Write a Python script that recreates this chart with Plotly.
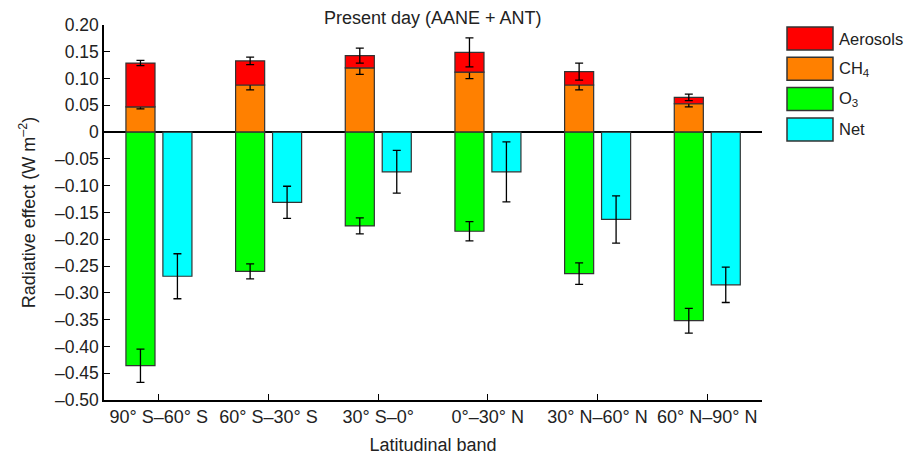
import plotly.graph_objects as go

# Latitudinal bands and radiative effects (W m-2)
bands = ["90° S–60° S", "60° S–30° S", "30° S–0°", "0°–30° N", "30° N–60° N", "60° N–90° N"]
ch4 = [0.047, 0.088, 0.120, 0.112, 0.088, 0.053]
ch4_err = [0.0035, 0.009, 0.012, 0.012, 0.009, 0.006]
aerosols = [0.082, 0.045, 0.023, 0.037, 0.025, 0.012]   # stacked on top of CH4
aerosols_err = [0.005, 0.007, 0.014, 0.027, 0.016, 0.006]
o3 = [-0.436, -0.260, -0.175, -0.185, -0.264, -0.352]
o3_err = [0.031, 0.014, 0.015, 0.018, 0.020, 0.023]
net = [-0.269, -0.131, -0.074, -0.074, -0.163, -0.285]
net_err = [0.042, 0.030, 0.040, 0.056, 0.044, 0.033]

y_ticks = [0.20, 0.15, 0.10, 0.05, 0, -0.05, -0.10, -0.15, -0.20, -0.25,
           -0.30, -0.35, -0.40, -0.45, -0.50]

legend_items = [("Aerosols", "#ff0000"), ("CH<sub>4</sub>", "#ff8000"),
                ("O<sub>3</sub>", "#00ff00"), ("Net", "#00ffff")]

FONT = "Liberation Sans, Arial, Helvetica, sans-serif"
TEXT = "#222222"
W, H = 912, 455
ML, MR, MT, MB = 104, 150, 25, 55
BAR_W = 0.265
OUTLINE = dict(color="#333333", width=1.2)


def err(values):
    return dict(type="data", array=values, visible=True, color="black",
                thickness=1.3, width=4)


def tick_text(v):
    if v == 0:
        return "0"
    s = f"{abs(v):.2f}"
    return s if v > 0 else "–" + s


fig = go.Figure()
fig.add_bar(x=bands, y=ch4, base=0, name="CH4", marker=dict(color="#ff8000", line=OUTLINE),
            offset=-0.30, width=BAR_W, error_y=err(ch4_err))
fig.add_bar(x=bands, y=aerosols, base=ch4, name="Aerosols",
            marker=dict(color="#ff0000", line=OUTLINE),
            offset=-0.30, width=BAR_W, error_y=err(aerosols_err))
fig.add_bar(x=bands, y=o3, base=0, name="O3", marker=dict(color="#00ff00", line=OUTLINE),
            offset=-0.30, width=BAR_W, error_y=err(o3_err))
fig.add_bar(x=bands, y=net, base=0, name="Net", marker=dict(color="#00ffff", line=OUTLINE),
            offset=0.037, width=BAR_W, error_y=err(net_err))

# Legend drawn as large swatches with labels to the right of the plot
plot_w = W - ML - MR
plot_h = H - MT - MB


def px_to_paper_x(px):
    return (px - ML) / plot_w


def px_to_paper_y(py):
    return (H - MB - py) / plot_h


shapes = []
annotations = []
for i, (label, color) in enumerate(legend_items):
    top = 27 + i * 30.3
    shapes.append(dict(type="rect", xref="paper", yref="paper",
                       x0=px_to_paper_x(787), x1=px_to_paper_x(833),
                       y0=px_to_paper_y(top + 23), y1=px_to_paper_y(top),
                       fillcolor=color, line=dict(color="#333333", width=1.5)))
    annotations.append(dict(xref="paper", yref="paper", x=px_to_paper_x(837),
                            y=px_to_paper_y(top + 11.5), xanchor="left", yanchor="middle",
                            text=label, showarrow=False,
                            font=dict(family=FONT, size=16.5, color=TEXT)))

annotations.append(dict(xref="paper", yref="paper", x=0.5, y=1, yshift=7,
                        xanchor="center", yanchor="middle", showarrow=False,
                        text="Present day (AANE + ANT)",
                        font=dict(family=FONT, size=18, color=TEXT)))

fig.update_layout(
    width=W, height=H,
    margin=dict(l=ML, r=MR, t=MT, b=MB),
    barmode="overlay",
    showlegend=False,
    plot_bgcolor="white", paper_bgcolor="white",
    font=dict(family=FONT, size=18, color=TEXT),
    shapes=shapes,
    annotations=annotations,
    xaxis=dict(
        range=[-0.5, 5.5], automargin=False,
        showline=True, linecolor="black", linewidth=1.5,
        ticks="inside", ticklen=6, tickwidth=1.2, tickcolor="black",
        showgrid=False, zeroline=False,
        tickfont=dict(family=FONT, size=18, color=TEXT),
        title=dict(text="Latitudinal band", standoff=15,
                   font=dict(family=FONT, size=18, color=TEXT)),
    ),
    yaxis=dict(
        range=[-0.5, 0.2], automargin=False,
        tickvals=y_ticks, ticktext=[tick_text(v) for v in y_ticks],
        showline=True, linecolor="black", linewidth=1.5,
        ticks="inside", ticklen=6, tickwidth=1.2, tickcolor="black",
        showgrid=False,
        zeroline=True, zerolinecolor="black", zerolinewidth=1.5,
        tickfont=dict(family=FONT, size=17.5, color=TEXT),
        title=dict(text="Radiative effect (W m<sup>–2</sup>)", standoff=15,
                   font=dict(family=FONT, size=18, color=TEXT)),
    ),
)

fig.write_html("out.html")
